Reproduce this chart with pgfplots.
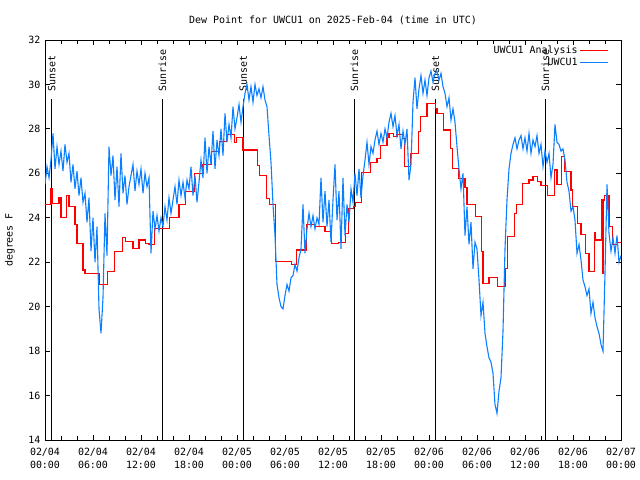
\documentclass[border=0pt]{standalone}
\usepackage{fontspec}
\setmainfont{DejaVu Sans Mono}
\usepackage{pgfplots}
\pgfplotsset{compat=1.18}
\definecolor{obsblue}{HTML}{0A80FF}
\definecolor{anred}{HTML}{FF0000}
\newcommand{\gfont}{\fontsize{10}{13}\selectfont}

\begin{document}
\begin{tikzpicture}[font=\gfont]
\useasboundingbox (0,0) rectangle (640bp,480bp);
\begin{axis}[
  at={(45bp,40bp)}, anchor=south west,
  width=576bp, height=400bp, scale only axis,
  xmin=0, xmax=72, ymin=14, ymax=32,
  xtick={0,6,...,72},
  xticklabels={{02/04\\00:00},{02/04\\06:00},{02/04\\12:00},{02/04\\18:00},
    {02/05\\00:00},{02/05\\06:00},{02/05\\12:00},{02/05\\18:00},
    {02/06\\00:00},{02/06\\06:00},{02/06\\12:00},{02/06\\18:00},{02/07\\00:00}},
  minor x tick num=2,
  ytick={14,16,...,32},
  tick align=inside,
  major tick length=5bp, minor tick length=4bp,
  every tick/.style={black, line width=0.8bp},
  axis line style={line width=0.8bp},
  tick label style={font=\gfont},
  x tick label style={align=center, yshift=-5bp},
  y tick label style={xshift=-1bp},
  /pgf/number format/assume math mode=true,
  title={Dew Point for UWCU1 on 2025-Feb-04 (time in UTC)},
  title style={at={(axis description cs:0.5,1)}, anchor=center, yshift=14bp, font=\gfont},
  ylabel={degrees F},
  ylabel style={at={(axis description cs:0,0.5)}, anchor=center, yshift=35bp, font=\gfont},
  legend plot pos=right,
  legend cell align=right,
  legend image code/.code={\draw[#1] (4bp,0bp) -- (32bp,0bp);},
  legend style={at={(rel axis cs:1,1)}, anchor=north east, xshift=-9bp, yshift=-2bp,
    draw=none, fill=none, font=\gfont, row sep=-1bp},
]
% sunrise / sunset markers
\addplot[black, line width=0.8bp, forget plot] coordinates {(0.83,14) (0.83,29.33)};
\addplot[black, line width=0.8bp, forget plot] coordinates {(14.67,14) (14.67,29.33)};
\addplot[black, line width=0.8bp, forget plot] coordinates {(24.79,14) (24.79,29.33)};
\addplot[black, line width=0.8bp, forget plot] coordinates {(38.67,14) (38.67,29.33)};
\addplot[black, line width=0.8bp, forget plot] coordinates {(48.8,14) (48.8,29.33)};
\addplot[black, line width=0.8bp, forget plot] coordinates {(62.54,14) (62.54,29.33)};
\node[rotate=90, anchor=west, inner sep=0pt] at (axis cs:0.83,29.66) {Sunset};
\node[rotate=90, anchor=west, inner sep=0pt] at (axis cs:14.67,29.66) {Sunrise};
\node[rotate=90, anchor=west, inner sep=0pt] at (axis cs:24.79,29.66) {Sunset};
\node[rotate=90, anchor=west, inner sep=0pt] at (axis cs:38.67,29.66) {Sunrise};
\node[rotate=90, anchor=west, inner sep=0pt] at (axis cs:48.8,29.66) {Sunset};
\node[rotate=90, anchor=west, inner sep=0pt] at (axis cs:62.54,29.66) {Sunrise};

% analysis (hourly-ish steps)
\addplot[anred, line width=1.1bp, const plot] coordinates {
(0,24.6) (0.75,25.3) (0.9,24.65) (1.75,24.9) (2.0,24.0) (2.7,25.0) (3.0,24.5)
(3.75,23.7) (4.0,22.85) (4.75,21.65) (5.0,21.5) (6.75,21.0) (7.8,21.6) (8.7,22.5)
(9.7,23.1) (10.1,22.95) (11.0,22.6) (11.75,23.0) (12.6,22.85) (13.0,22.8) (13.7,23.5)
(15.6,24.0) (16.75,24.6) (17.6,25.2) (18.7,26.0) (19.75,26.4) (20.8,27.0) (21.8,27.45)
(22.7,27.75) (23.7,27.4) (23.9,27.6) (24.75,27.05) (26.6,26.35) (26.8,25.9) (27.7,24.85)
(28.1,24.6) (28.8,22.05) (30.8,21.9) (31.4,22.55) (32.7,23.7) (33.7,23.6) (35.0,23.4)
(35.8,22.85) (36.7,22.9) (37.6,23.3) (37.9,24.4) (38.6,24.5) (38.8,24.7) (39.6,26.05)
(40.7,26.5) (41.5,26.65) (41.9,27.25) (42.75,27.6) (43.0,27.8) (43.6,27.65) (44.0,27.75)
(44.7,27.55) (44.9,26.3) (45.7,26.9) (46.7,27.9) (46.9,28.55) (47.75,29.15) (48.8,28.9)
(49.0,28.7) (49.8,27.95) (50.7,27.1) (50.9,26.2) (51.7,25.75) (52.5,25.35) (52.75,24.6)
(53.8,24.05) (54.6,22.5) (54.75,21.05) (55.5,21.3) (56.6,20.9) (57.5,21.7) (57.8,23.15)
(58.7,24.2) (58.9,24.6) (59.7,25.55) (60.5,25.7) (61.0,25.85) (61.6,25.65) (62.0,25.45)
(62.8,25.0) (63.7,26.15) (64.0,25.5) (64.6,26.75) (64.9,26.1) (65.75,25.25) (65.95,24.5)
(66.6,23.75) (67.0,23.25) (67.6,22.4) (68.0,21.6) (68.7,23.35) (68.8,23.0) (69.6,24.8)
(69.7,21.5) (69.8,24.8) (69.95,25.0) (70.5,23.6) (70.9,22.8) (71.6,22.9) (72.0,22.9)
};
\addlegendentry{UWCU1 Analysis}

% observations
\addplot[obsblue, line width=1.1bp] coordinates {
(0,25.5) (0.25,26.3) (0.5,25.8) (0.75,26.6)
(1,27.8) (1.25,26.2) (1.5,27.2) (1.75,26.4)
(2,27.0) (2.25,26.1) (2.5,27.3) (2.75,26.5)
(3,26.9) (3.25,25.6) (3.5,26.4) (3.75,25.3)
(4,26.1) (4.25,25.0) (4.5,25.8) (4.75,24.7)
(5,25.1) (5.25,23.8) (5.5,24.9) (5.75,22.5)
(6,24.0) (6.25,22.0) (6.5,23.6) (6.75,19.9)
(7,18.8) (7.25,20.4) (7.5,24.2) (7.75,22.3)
(8,27.2) (8.25,25.9) (8.5,26.8) (8.75,24.8)
(9,26.3) (9.25,24.5) (9.5,26.9) (9.75,25.1)
(10,25.9) (10.25,24.6) (10.5,25.4) (10.75,25.9)
(11,26.4) (11.25,25.2) (11.5,26.1) (11.75,25.5)
(12,26.2) (12.25,25.1) (12.5,26.0) (12.75,25.4)
(13,25.8) (13.25,22.4) (13.5,24.3) (13.75,23.5)
(14,24.1) (14.25,23.4) (14.5,24.0) (14.75,23.6)
(15,24.5) (15.25,23.9) (15.5,24.9) (15.75,24.2)
(16,24.8) (16.25,25.4) (16.5,24.6) (16.75,25.7)
(17,25.0) (17.25,25.6) (17.5,24.9) (17.75,25.7)
(18,25.3) (18.25,26.3) (18.5,25.0) (18.75,25.9)
(19,24.7) (19.25,25.6) (19.5,26.6) (19.75,25.8)
(20,27.6) (20.25,26.0) (20.5,27.2) (20.75,26.4)
(21,27.9) (21.25,26.2) (21.5,27.5) (21.75,26.8)
(22,28.0) (22.25,26.8) (22.5,28.7) (22.75,27.4)
(23,28.2) (23.25,27.6) (23.5,29.0) (23.75,28.0)
(24,28.5) (24.25,29.1) (24.5,28.3) (24.75,29.0)
(25,29.6) (25.25,30.0) (25.5,29.3) (25.75,29.9)
(26,29.2) (26.25,30.0) (26.5,29.5) (26.75,29.8)
(27,29.4) (27.25,29.9) (27.5,29.3) (27.75,29.0)
(28,27.7) (28.25,26.5) (28.5,24.6) (28.75,23.2)
(29,21.0) (29.25,20.4) (29.5,20.0) (29.75,19.9)
(30,20.5) (30.25,21.0) (30.5,20.7) (30.75,21.3)
(31,21.4) (31.25,21.9) (31.5,21.6) (31.75,22.2)
(32,22.6) (32.25,24.6) (32.5,22.4) (32.75,23.5)
(33,24.2) (33.25,23.6) (33.5,24.1) (33.75,23.5)
(34,24.0) (34.25,23.7) (34.5,25.8) (34.75,23.8)
(35,25.2) (35.25,23.6) (35.5,24.8) (35.75,22.9)
(36,24.8) (36.25,26.4) (36.5,23.9) (36.75,25.2)
(37,22.6) (37.25,25.8) (37.5,23.2) (37.75,24.6)
(38,23.8) (38.25,25.3) (38.5,24.7) (38.75,26.0)
(39,25.0) (39.25,26.2) (39.5,24.9) (39.75,25.9)
(40,26.6) (40.25,27.4) (40.5,26.4) (40.75,27.2)
(41,26.9) (41.25,27.5) (41.5,27.9) (41.75,27.3)
(42,27.8) (42.25,27.4) (42.5,28.0) (42.75,27.6)
(43,28.3) (43.25,28.7) (43.5,28.1) (43.75,28.6)
(44,27.7) (44.25,28.2) (44.5,27.1) (44.75,27.9)
(45,27.3) (45.25,28.0) (45.5,25.7) (45.75,26.4)
(46,29.2) (46.25,30.3) (46.5,28.9) (46.75,29.8)
(47,30.4) (47.25,29.6) (47.5,30.2) (47.75,29.5)
(48,30.3) (48.25,30.6) (48.5,30.1) (48.75,30.5)
(49,30.6) (49.25,30.2) (49.5,30.5) (49.75,29.9)
(50,29.6) (50.25,29.0) (50.5,29.4) (50.75,28.4)
(51,28.9) (51.25,28.3) (51.5,27.2) (51.75,26.2)
(52,25.3) (52.25,26.0) (52.5,23.2) (52.75,24.5)
(53,22.8) (53.25,23.8) (53.5,21.7) (53.75,22.9)
(54,22.6) (54.25,21.2) (54.5,19.6) (54.75,20.2)
(55,18.8) (55.25,18.2) (55.5,17.7) (55.75,17.5)
(56,17.0) (56.25,15.6) (56.5,15.2) (56.75,16.2)
(57,16.8) (57.25,18.9) (57.5,22.6) (57.75,24.8)
(58,26.2) (58.25,26.9) (58.5,27.3) (58.75,27.6)
(59,27.1) (59.25,27.5) (59.5,27.7) (59.75,27.1)
(60,27.6) (60.25,27.0) (60.5,27.8) (60.75,26.9)
(61,27.5) (61.25,27.2) (61.5,27.7) (61.75,26.9)
(62,27.3) (62.25,26.3) (62.5,27.0) (62.75,26.5)
(63,26.9) (63.25,25.8) (63.5,26.4) (63.75,28.2)
(64,27.4) (64.25,27.3) (64.5,27.0) (64.75,27.1)
(65,26.6) (65.25,25.6) (65.5,25.2) (65.75,24.3)
(66,24.5) (66.25,23.9) (66.5,22.4) (66.75,22.8)
(67,22.1) (67.25,21.2) (67.5,20.9) (67.75,20.5)
(68,20.8) (68.25,19.7) (68.5,20.2) (68.75,19.5)
(69,19.1) (69.25,18.8) (69.5,18.3) (69.75,18.0)
(70,21.5) (70.25,25.5) (70.5,23.3) (70.75,22.5)
(71,23.1) (71.25,22.4) (71.5,23.2) (71.75,22.0)
(72,22.3)
};
\addlegendentry{UWCU1}
\end{axis}
\end{tikzpicture}
\end{document}
